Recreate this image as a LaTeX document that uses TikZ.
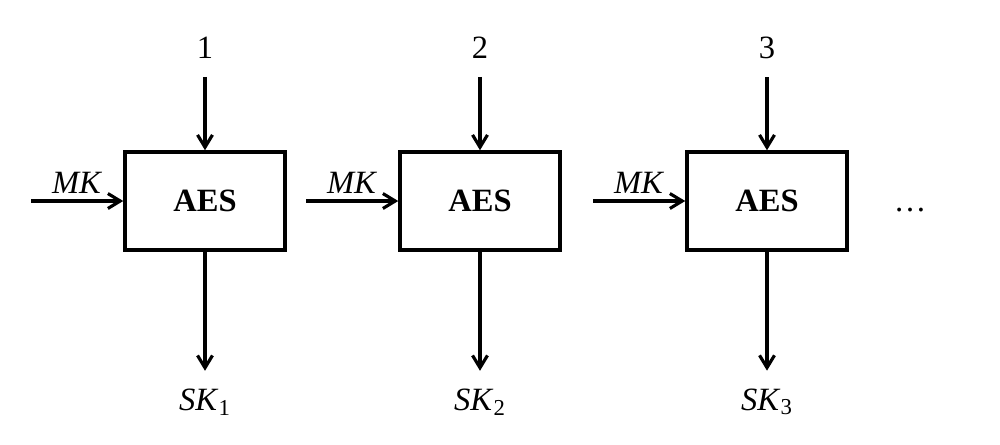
\documentclass[tikz,border=0pt]{standalone}
\usepackage{fontspec}
\setmainfont{Liberation Serif}
\usetikzlibrary{positioning,arrows.meta}
\tikzset{
    block/.style = {draw, rectangle, line width=2pt,
        minimum height=1.96cm,
        minimum width=3.2cm, align=center,
        font=\fontsize{18.5}{22}\selectfont\bfseries},
    txt/.style = {font=\fontsize{18.5}{22}\selectfont},
    pinstyle/.style = {txt, outer sep=7pt},
    arrow/.style = {draw, line width=1.8pt, ->}
}

\begin{document}
\begin{tikzpicture}[>={Straight Barb[length=7pt,width=8.5pt]}]
        \useasboundingbox (0,0) rectangle (20,-8.88);
        \node [block] (aes1) at (4.1,-4.02) {AES};
        \node [block] (aes2) at (9.6,-4.02) {AES};
        \node [block] (aes3) at (15.34,-4.02) {AES};
        \node [pinstyle] (in1) at (4.1,-0.96) {1};
        \node [pinstyle] (in2) at (9.6,-0.96) {2};
        \node [pinstyle] (in3) at (15.34,-0.96) {3};
        \draw [arrow] (in1) -- (aes1);
        \draw [arrow] (in2) -- (aes2);
        \draw [arrow] (in3) -- (aes3);
        \coordinate [left=1.84cm of aes1.west] (mk1);
        \coordinate [left=1.84cm of aes2.west] (mk2);
        \coordinate [left=1.84cm of aes3.west] (mk3);
        \draw [arrow] (mk1) -- node[txt, above] {\textit{MK}} (aes1.west);
        \draw [arrow] (mk2) -- node[txt, above] {\textit{MK}} (aes2.west);
        \draw [arrow] (mk3) -- node[txt, above] {\textit{MK}} (aes3.west);
        \node [pinstyle] (sk1) at (4.1,-8.04) {\textit{SK}\textsubscript{1}};
        \node [pinstyle] (sk2) at (9.6,-8.04) {\textit{SK}\textsubscript{2}};
        \node [pinstyle] (sk3) at (15.34,-8.04) {\textit{SK}\textsubscript{3}};
        \draw [arrow] (aes1) -- (sk1);
        \draw [arrow] (aes2) -- (sk2);
        \draw [arrow] (aes3) -- (sk3);
        \node [txt] (more) at (18.2,-4.2) {\dots};
    \end{tikzpicture}
\end{document}
